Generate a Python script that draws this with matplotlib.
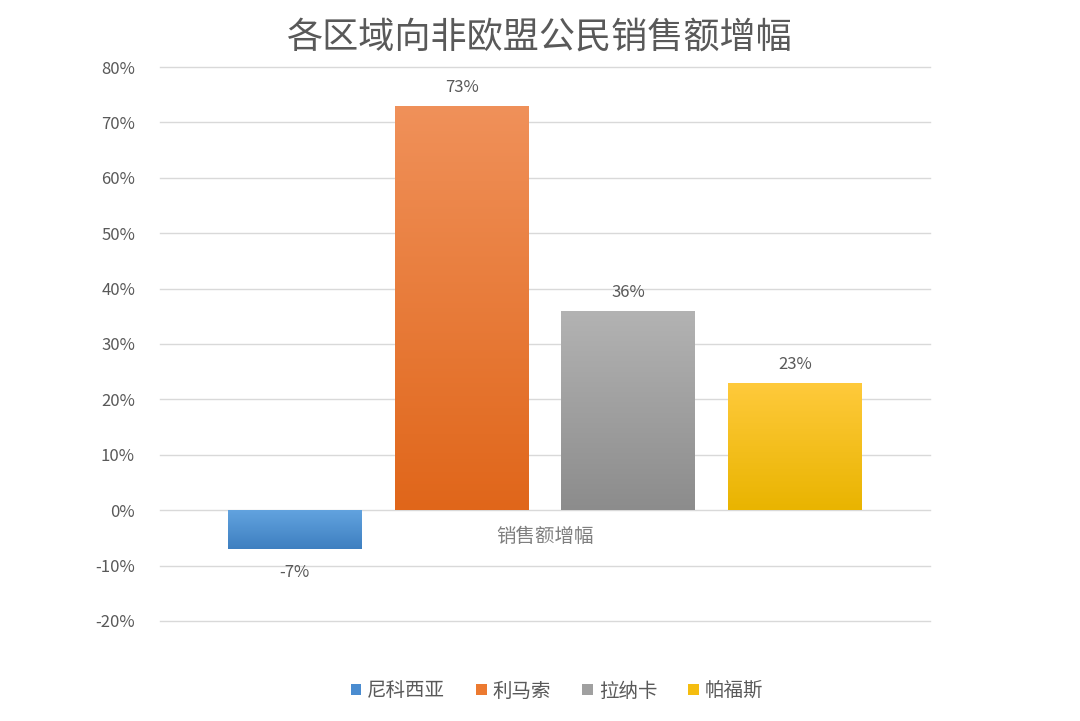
import numpy as np
import matplotlib.pyplot as plt
from matplotlib.colors import LinearSegmentedColormap

plt.rcParams['font.family'] = ['Noto Sans CJK SC', 'DejaVu Sans']

# data
regions = ['尼科西亚', '利马索', '拉纳卡', '帕福斯']
growth = [-7, 73, 36, 23]
category = '销售额增幅'
title = '各区域向非欧盟公民销售额增幅'
yticks = [-20, -10, 0, 10, 20, 30, 40, 50, 60, 70, 80]

# gradient colours (top, bottom)
grads = [('#62a3df', '#3e7fc0'),
         ('#f0915a', '#e0661a'),
         ('#b3b3b3', '#8c8c8c'),
         ('#ffca3c', '#e9b400')]
legend_cols = ['#4a8cd0', '#ec7a30', '#a0a0a0', '#f5bd10']

fig = plt.figure(figsize=(10.8, 7.21), dpi=100)
ax = fig.add_axes([160/1080, 1-621/721, 770/1080, 554/721])

step = 0.2168
width = 0.174
xs = [0.5 + (i - 1.5)*step for i in range(len(regions))]

for i, (x, v) in enumerate(zip(xs, growth)):
    bar = ax.bar(x, v, width=width, color=legend_cols[i], label=regions[i],
                 zorder=2, linewidth=0)[0]
    cmap = LinearSegmentedColormap.from_list('g%d' % i, [grads[i][1], grads[i][0]])
    lo, hi = min(0, v), max(0, v)
    grad = np.linspace(0, 1, 256).reshape(-1, 1)
    im = ax.imshow(grad, cmap=cmap, aspect='auto', origin='lower',
                   extent=[x - width/2, x + width/2, lo, hi], zorder=3)
    im.set_clip_path(bar)
    if v >= 0:
        ax.text(x, v + 1.7, '%d%%' % v, ha='center', va='bottom',
                fontsize=12, color='#595959')
    else:
        ax.text(x, v - 2.8, '%d%%' % v, ha='center', va='top',
                fontsize=12, color='#595959')

ax.set_xlim(0, 1)
ax.set_ylim(-20, 80)
ax.set_yticks(yticks)
ax.set_yticklabels(['%d%%' % t for t in yticks], fontsize=12, color='#595959')
ax.set_xticks([])
ax.tick_params(axis='y', length=0, pad=18)
ax.grid(axis='y', color='#d9d9d9', linewidth=1, zorder=0)
for gl in ax.get_ygridlines():
    gl.set_clip_on(False)
for s in ax.spines.values():
    s.set_visible(False)

ax.text(0.5, -4.8, category, ha='center', va='center', fontsize=14, color='#7f7f7f')

fig.text(540/1080, 1-38/721, title, ha='center', va='center',
         fontsize=26, color='#595959')

leg = ax.legend(loc='center', bbox_to_anchor=(557/1080, 1-691/721),
                bbox_transform=fig.transFigure, ncol=4, frameon=False,
                fontsize=14, handlelength=0.55, handleheight=0.55,
                handletextpad=0.3, columnspacing=1.6)
for t in leg.get_texts():
    t.set_color('#595959')

fig.savefig('out.png', dpi=100, facecolor='white')
